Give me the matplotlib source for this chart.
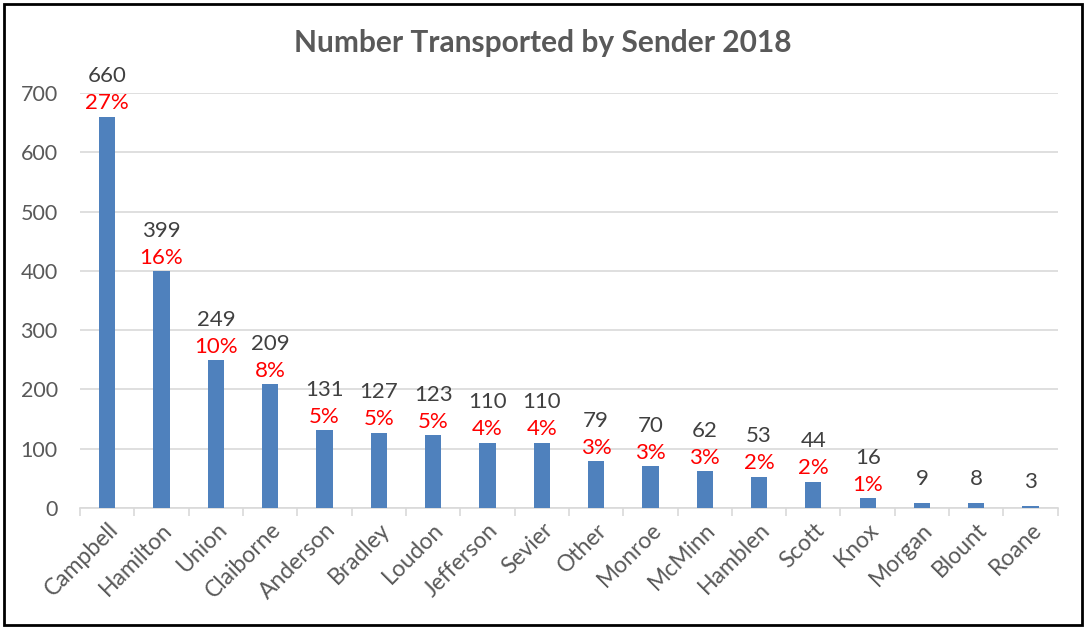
import matplotlib
matplotlib.use("Agg")
import matplotlib.pyplot as plt
from matplotlib.patches import Rectangle

categories = ["Campbell", "Hamilton", "Union", "Claiborne", "Anderson", "Bradley",
              "Loudon", "Jefferson", "Sevier", "Other", "Monroe", "McMinn",
              "Hamblen", "Scott", "Knox", "Morgan", "Blount", "Roane"]
values = [660, 399, 249, 209, 131, 127, 123, 110, 110, 79, 70, 62, 53, 44, 16, 9, 8, 3]
percents = ["27%", "16%", "10%", "8%", "5%", "5%", "5%", "4%", "4%", "3%", "3%",
            "3%", "2%", "2%", "1%", None, None, None]
yticks = [0, 100, 200, 300, 400, 500, 600, 700]

plt.rcParams['font.family'] = ['Lato', 'DejaVu Sans']

fig = plt.figure(figsize=(10.86, 6.29), dpi=100)
ax = fig.add_axes([0.0737, 0.1924, 0.9003, 0.6596])

x = list(range(len(categories)))
ax.bar(x, values, width=0.3, color="#4F81BD", zorder=3)
ax.set_xlim(-0.5, len(categories) - 0.5)
ax.set_ylim(0, 700)
ax.set_yticks(yticks)
ax.yaxis.grid(True, color="#D9D9D9", linewidth=1.2, zorder=0)
ax.tick_params(axis='y', length=0, labelsize=15.5, labelcolor="#595959", pad=16)
ax.set_xticks(x)
ax.set_xticklabels(categories, rotation=45, ha='right', rotation_mode='anchor',
                   fontsize=16.5, color="#595959")
ax.tick_params(axis='x', length=0, pad=8)
for s in ['top', 'right', 'left']:
    ax.spines[s].set_visible(False)
ax.spines['bottom'].set_color("#D9D9D9")
ax.spines['bottom'].set_linewidth(1.2)
# minor ticks between categories
ax.set_xticks([i - 0.5 for i in range(len(categories) + 1)], minor=True)
ax.tick_params(axis='x', which='minor', length=6, color="#D9D9D9", width=1.2)

for xi, v, p in zip(x, values, percents):
    if p is not None:
        ax.annotate(str(v), (xi, v), xytext=(0, 22), textcoords='offset points',
                    ha='center', va='bottom', fontsize=16, color="#404040")
        ax.annotate(p, (xi, v), xytext=(0, 2.5), textcoords='offset points',
                    ha='center', va='bottom', fontsize=16, color="#FF0000")
    else:
        ax.annotate(str(v), (xi, v), xytext=(0, 10), textcoords='offset points',
                    ha='center', va='bottom', fontsize=16, color="#404040")

fig.text(0.5, 0.932, "Number Transported by Sender 2018", ha='center', va='center',
         fontsize=21.5, fontweight='bold', color="#595959")

fig.patches.append(Rectangle((0.004, 0.006), 0.992, 0.988, transform=fig.transFigure,
                             fill=False, edgecolor='black', linewidth=2))

fig.savefig("out.png", dpi=100)
